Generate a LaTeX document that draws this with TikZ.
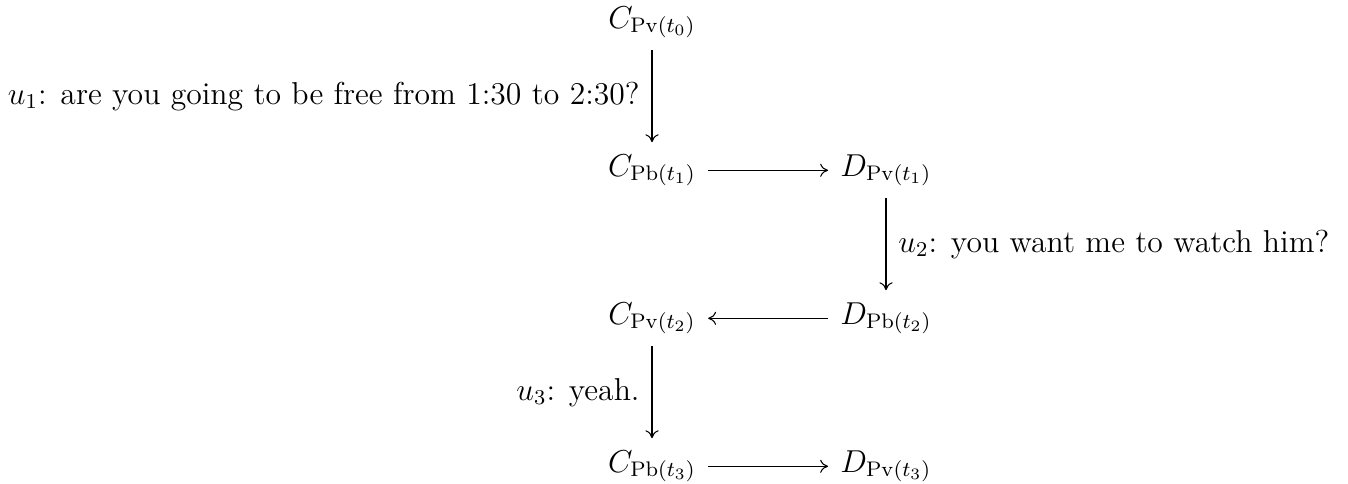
\documentclass[tikz,border=0pt]{standalone}
\usetikzlibrary{arrows.meta}
\begin{document}
\begin{tikzpicture}[x=0.3788pt,y=-0.3788pt,font=\large,
  obj/.style={inner sep=0pt,anchor=base},
  arr/.style={-{Computer Modern Rightarrow[length=3pt,width=5pt]},line width=0.4pt},
  varr/.style={arr,shorten <=4.3pt,shorten >=4.4pt},
  harr/.style={arr,shorten <=4.5pt,shorten >=4.5pt},
  lab/.style={inner sep=0pt,midway}]
\useasboundingbox (0,0) rectangle (1348,483);
\node[obj] (C0) at (652,28) {$C_{\mathrm{Pv}(t_0)}$};
\node[obj] (C1) at (652,176) {$C_{\mathrm{Pb}(t_1)}$};
\node[obj] (D1) at (886,176) {$D_{\mathrm{Pv}(t_1)}$};
\node[obj] (D2) at (886,324) {$D_{\mathrm{Pb}(t_2)}$};
\node[obj] (C2) at (652,324) {$C_{\mathrm{Pv}(t_2)}$};
\node[obj] (C3) at (652,472) {$C_{\mathrm{Pb}(t_3)}$};
\node[obj] (D3) at (886,472) {$D_{\mathrm{Pv}(t_3)}$};
\draw[varr] (C0) -- node[lab,left=4.5pt] {$u_1$: are you going to be free from 1:30 to 2:30?} (C1);
\draw[harr] (C1) -- (D1);
\draw[varr] (D1) -- node[lab,right=4.5pt] {$u_2$: you want me to watch him?} (D2);
\draw[harr] (D2) -- (C2);
\draw[varr] (C2) -- node[lab,left=4.5pt] {$u_3$: yeah.} (C3);
\draw[harr] (C3) -- (D3);
\end{tikzpicture}
\end{document}
